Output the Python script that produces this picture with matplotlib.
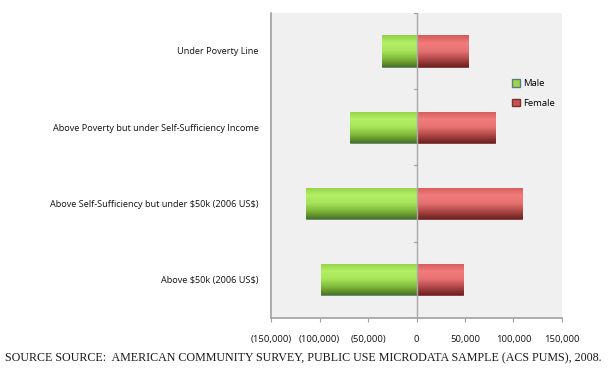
import numpy as np
import matplotlib
matplotlib.use("Agg")
import matplotlib.pyplot as plt
from matplotlib.colors import LinearSegmentedColormap
from matplotlib.patches import Patch

categories = ["Under Poverty Line",
              "Above Poverty but under Self-Sufficiency Income",
              "Above Self-Sufficiency but under \\$50k (2006 US\\$)",
              "Above \\$50k (2006 US\\$)"]
male = [-36000, -68500, -113500, -98000]
female = [53500, 80500, 109000, 48000]
xticks = [-150000, -100000, -50000, 0, 50000, 100000, 150000]
xticklabels = ["(150,000)", "(100,000)", "(50,000)", "0", "50,000", "100,000", "150,000"]

fig = plt.figure(figsize=(6.15, 3.69), dpi=100)
ax = fig.add_axes([0.4407, 0.1382, 0.4731, 0.8274])
ax.set_facecolor("#f0f0f0")

y = np.arange(len(categories))
green_cmap = LinearSegmentedColormap.from_list("g", ["#92d048", "#b4f066", "#a6e45a", "#7fb83a", "#4b7422"])
red_cmap = LinearSegmentedColormap.from_list("r", ["#d65a5a", "#f07c7c", "#e87272", "#b04848", "#6e2222"])

bm = ax.barh(y, male, height=0.41, color="#9ad645", edgecolor="#5a7a8a", linewidth=0.6, zorder=2)
bf = ax.barh(y, female, height=0.41, color="#d85c5c", edgecolor="#7a3030", linewidth=0.6, zorder=2)

grad = np.linspace(0, 1, 64).reshape(-1, 1)
for bars, cmap in ((bm, green_cmap), (bf, red_cmap)):
    for p in bars:
        x0, y0 = p.get_x(), p.get_y()
        w, h = p.get_width(), p.get_height()
        im = ax.imshow(grad, cmap=cmap, aspect="auto",
                       extent=(min(x0, x0 + w), max(x0, x0 + w), y0 + h, y0),
                       origin="upper", zorder=2.5, interpolation="bilinear")
        im.set_clip_path(p)

ax.set_xlim(-150000, 150000)
ax.set_ylim(len(categories) - 0.5, -0.5)
ax.set_xticks(xticks)
ax.set_xticklabels(xticklabels, fontsize=6.8, family="Open Sans", color="#111111")
ax.set_yticks(y)
ax.set_yticklabels(categories, fontsize=6.6, family="Open Sans", color="#111111")
ax.tick_params(axis="y", length=0, pad=9)
ax.tick_params(axis="x", length=3, color="#a0a0a0", pad=9)

for s in ["top", "right"]:
    ax.spines[s].set_visible(False)
ax.spines["left"].set_color("#a0a0a0")
ax.spines["bottom"].set_color("#a0a0a0")
ax.spines["left"].set_linewidth(1.2)
ax.spines["bottom"].set_linewidth(1.2)

ax.axvline(0, color="#a8a8a8", linewidth=1.0, zorder=3)
for b in np.arange(-0.5, len(categories) - 0.4, 1.0):
    ax.plot([-2500, 0], [b, b], color="#a0a0a0", linewidth=0.8, zorder=3)

handles = [Patch(facecolor="#9ad645", edgecolor="#5a7a8a"),
           Patch(facecolor="#c85050", edgecolor="#7a3030")]
leg = ax.legend(handles, ["Male", "Female"], loc="upper left",
                bbox_to_anchor=(0.8, 0.81), frameon=False,
                prop={"family": "Open Sans", "size": 6.8},
                handlelength=0.8, handleheight=0.8, handletextpad=0.3,
                labelspacing=1.1)

fig.text(0.008, 0.022, "SOURCE SOURCE:  AMERICAN COMMUNITY SURVEY, PUBLIC USE MICRODATA SAMPLE (ACS PUMS), 2008.",
         family="Liberation Serif", fontsize=8.65, color="#1a1a1a")

fig.savefig("out.png", dpi=100, facecolor="white")
